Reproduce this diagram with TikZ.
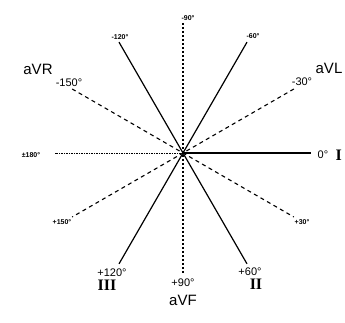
\documentclass[tikz,border=0pt]{standalone}
\usepackage{fontspec}
\setmainfont{Liberation Sans}
\newfontfamily\numfont{Liberation Serif}
\usetikzlibrary{arrows.meta, positioning, calc}

\begin{document}
\begin{tikzpicture}[
    x=1pt, y=1pt,
    every node/.style = {inner sep=0pt, text=black},
    limbline/.style   = {line width=1.2pt},
    augline/.style    = {line width=1.1pt, dash pattern=on 4pt off 3.5pt},
    vfline/.style     = {line width=1.1pt, dash pattern=on 2.5pt off 1.5pt},
    negline/.style    = {line width=0.9pt, dash pattern=on 1.5pt off 1pt},
    smalllab/.style   = {font=\fontsize{7}{8}\selectfont\bfseries},
    midlab/.style     = {font=\fontsize{11}{12}\selectfont},
    leadlab/.style    = {font=\fontsize{15}{16}\selectfont},
    romanlab/.style   = {font=\fontsize{16}{16}\numfont\bfseries},
]
\useasboundingbox (-183,-170) rectangle (162,153);

% Centre
\coordinate (O) at (0,0);

% Axis end points
\coordinate (E0)    at (0:128);
\coordinate (E180)  at (180:128);
\coordinate (Em90)  at (90:130);
\coordinate (E90)   at (-90:122);
\foreach \a in {30,60,120,150}{
  \coordinate (Em\a) at (\a:128);
  \coordinate (E\a)  at (-\a:128);
}

% Limb leads I, II, III
\draw[limbline] (O) -- (E0);
\draw[limbline] (Em60) -- (E120);
\draw[limbline] (Em120) -- (E60);
\draw[negline] (O) -- (E180);

% Augmented leads aVR, aVL, aVF
\draw[augline] (Em150) -- (E30);
\draw[augline] (Em30) -- (E150);
\draw[vfline] (Em90) -- (E90);

% Small degree labels
\node[smalllab] (Lm90)  at (5,135)     {-90°};
\node[smalllab] (Lm120) at (-63,116)   {-120°};
\node[smalllab] (Lm60)  at (70,117)    {-60°};
\node[smalllab] (L180)  at (-152,-2)   {±180°};
\node[smalllab] (L150)  at (-121,-69)  {+150°};
\node[smalllab] (L30)   at (119,-69)   {+30°};

% Lead labels
\node[leadlab] (aVR)  at (-145,84)  {aVR};
\node[midlab]  (Lm150) at (-114,70) {-150°};
\node[leadlab] (aVL)  at (146,85)   {aVL};
\node[midlab]  (Lm30) at (119,71)   {-30°};
\node[midlab]  (L0)   at (140,-2)   {0°};
\node[romanlab, right=7pt of L0] (I) {I};
\node[midlab]  (L120) at (-71,-120) {+120°};
\node[romanlab, below=3pt of L120, xshift=-5pt] (III) {III};
\node[midlab]  (L60)  at (67,-119)  {+60°};
\node[romanlab, below=3pt of L60, xshift=6pt] (II) {II};
\node[midlab]  (L90)  at (0,-130)   {+90°};
\node[leadlab] (aVF)  at (0,-147)   {aVF};

\end{tikzpicture}
\end{document}
